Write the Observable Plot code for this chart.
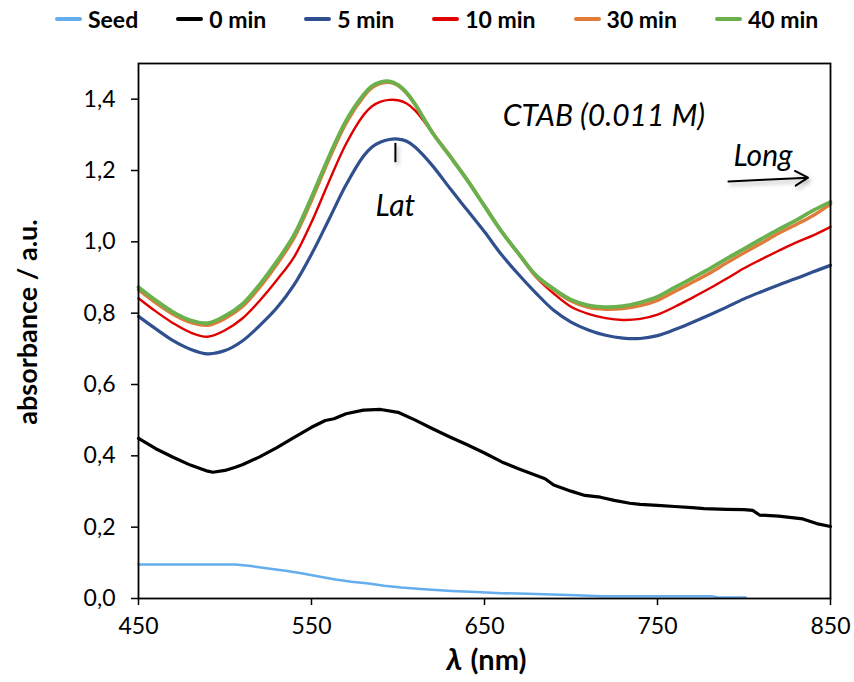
<!DOCTYPE html>
<html><head><meta charset="utf-8">
<script src="https://cdn.jsdelivr.net/npm/d3@7"></script>
<script src="https://cdn.jsdelivr.net/npm/@observablehq/plot@0.6"></script>
<style>
body{margin:0;background:#fff;font-family:Lato,"Open Sans",sans-serif;}
#legend{height:40px;display:flex;align-items:center;padding-left:55px;gap:38px;box-sizing:border-box;padding-bottom:3px;}
.item{display:flex;align-items:center;gap:6px;font-weight:bold;font-size:23px;color:#000;}
.sw{width:27px;height:4px;border-radius:2px;}
#chart svg{display:block;}
g[aria-label="arrow"], g[aria-label="rule"]{filter:drop-shadow(2px 3px 2px rgba(0,0,0,0.3));}
</style></head><body>
<div id="legend"></div>
<div id="chart"></div>
<script>
// Series names and colours
const seriesNames = ["Seed", "0 min", "5 min", "10 min", "30 min", "40 min"];
const seriesColors = ["#64aeee", "#000000", "#2f4f8f", "#e00000", "#e07b39", "#6ab04c"];

// Shared wavelength grid for 5, 10, 30, 40 min (nm)
const wl = [450,460,470,480,490,500,510,520,530,540,550,560,570,580,585,590,595,600,605,610,
            620,630,640,650,660,670,680,690,700,710,720,730,740,750,760,770,780,790,800,810,820,830,840,850];
const abs40 = [0.873,0.836,0.803,0.780,0.772,0.792,0.825,0.880,0.945,1.020,1.125,1.238,1.340,1.412,1.437,1.448,1.450,1.440,1.418,1.385,
               1.305,1.240,1.173,1.100,1.028,0.965,0.905,0.868,0.838,0.822,0.817,0.820,0.830,0.846,0.872,0.898,0.924,0.953,0.980,1.008,1.035,1.060,1.088,1.112];
const abs30 = [0.866,0.829,0.797,0.774,0.766,0.785,0.818,0.872,0.937,1.012,1.116,1.230,1.333,1.406,1.432,1.444,1.447,1.438,1.416,1.384,
               1.306,1.241,1.174,1.101,1.028,0.965,0.903,0.865,0.834,0.816,0.811,0.813,0.821,0.836,0.861,0.886,0.912,0.941,0.969,0.996,1.024,1.048,1.074,1.106];
const abs10 = [0.842,0.805,0.772,0.746,0.734,0.752,0.785,0.835,0.893,0.958,1.055,1.168,1.275,1.355,1.380,1.393,1.398,1.397,1.388,1.368,
               1.306,1.241,1.174,1.101,1.028,0.964,0.900,0.855,0.818,0.798,0.786,0.781,0.784,0.796,0.818,0.843,0.869,0.897,0.926,0.951,0.975,0.998,1.018,1.042];
const abs5  = [0.791,0.756,0.723,0.699,0.686,0.695,0.722,0.765,0.815,0.880,0.965,1.062,1.160,1.240,1.266,1.280,1.287,1.288,1.282,1.265,
               1.213,1.150,1.089,1.028,0.963,0.907,0.855,0.808,0.775,0.753,0.738,0.730,0.729,0.737,0.754,0.774,0.795,0.817,0.840,0.860,0.879,0.897,0.916,0.934];

// 0 min
const wl0 = [450,460,470,480,490,493,500,506,510,520,530,540,550,558,563,570,580,590,600,610,620,630,640,650,660,670,680,685,690,700,708,717,725,734,740,750,760,770,777,790,800,805,809,820,834,842,850];
const abs0 = [0.449,0.420,0.396,0.374,0.357,0.354,0.359,0.368,0.375,0.397,0.423,0.452,0.480,0.499,0.504,0.518,0.528,0.530,0.522,0.500,0.476,0.453,0.431,0.408,0.383,0.363,0.345,0.336,0.318,0.301,0.289,0.284,0.275,0.267,0.264,0.261,0.258,0.255,0.252,0.250,0.249,0.247,0.234,0.231,0.223,0.210,0.202];

// Seed
const wlSeed = [450,470,490,506,515,525,535,545,555,564,573,583,592,602,615,631,645,660,675,689,703,718,750,782,785,801];
const absSeed = [0.095,0.095,0.095,0.095,0.091,0.084,0.078,0.070,0.061,0.053,0.047,0.042,0.036,0.031,0.026,0.021,0.018,0.015,0.013,0.011,0.009,0.006,0.006,0.006,0.003,0.003];

// Ticks
const xTicks = [450, 550, 650, 750, 850];
const yTicks = [0, 0.2, 0.4, 0.6, 0.8, 1.0, 1.2, 1.4];

// Annotations
const notes = [
  {text: "CTAB (0.011 M)", x: 719, y: 1.352},
  {text: "Lat", x: 598.5, y: 1.10},
  {text: "Long", x: 811, y: 1.24}
];
const latMarker = [{x: 598.5, y1: 1.222, y2: 1.276}];
const longArrow = [{x1: 791, y1: 1.169, x2: 837, y2: 1.180}];

const toRows = (w, v, s) => w.map((d, i) => ({wl: d, a: v[i], s}));
const series = [
  toRows(wlSeed, absSeed, "Seed"),
  toRows(wl0, abs0, "0 min"),
  toRows(wl, abs5, "5 min"),
  toRows(wl, abs10, "10 min"),
  toRows(wl, abs30, "30 min"),
  toRows(wl, abs40, "40 min")
];
const widths = [2.5, 3.2, 3.2, 2.4, 3.4, 3.8];

// Legend
const leg = document.getElementById("legend");
seriesNames.forEach((n, i) => {
  const it = document.createElement("div"); it.className = "item";
  const sw = document.createElement("div"); sw.className = "sw"; sw.style.background = seriesColors[i];
  const t = document.createElement("span"); t.textContent = n;
  it.appendChild(sw); it.appendChild(t); leg.appendChild(it);
});

const fmt = d => d.toFixed(1).replace(".", ",");

const chart = Plot.plot({
  width: 854, height: 642,
  marginTop: 23, marginBottom: 84, marginLeft: 138, marginRight: 24,
  style: {fontFamily: "Lato, sans-serif", background: "white", color: "#000", overflow: "visible"},
  x: {domain: [450, 850]},
  y: {domain: [0, 1.5]},
  marks: [
    Plot.axisX({ticks: xTicks, tickSize: 7, tickPadding: 12, fontSize: 23, strokeWidth: 1.5, label: null}),
    Plot.axisY({ticks: yTicks, tickSize: 7, tickPadding: 16, fontSize: 23, strokeWidth: 1.5, tickFormat: fmt, label: null}),
    ...series.map((rows, i) => Plot.line(rows, {x: "wl", y: "a", stroke: seriesColors[i], strokeWidth: widths[i], curve: i < 2 ? "linear" : "catmull-rom"})),
    Plot.frame({stroke: "#000", strokeWidth: 1.8}),
    Plot.text(notes, {x: "x", y: "y", text: "text", fontSize: 30, fontStyle: "italic", fill: "#000"}),
    Plot.ruleX(latMarker, {x: "x", y1: "y1", y2: "y2", stroke: "#000", strokeWidth: 2}),
    Plot.arrow(longArrow, {x1: "x1", y1: "y1", x2: "x2", y2: "y2", stroke: "#000", strokeWidth: 2, headLength: 11}),
    Plot.text(["absorbance / a.u."], {frameAnchor: "left", textAnchor: "middle", dx: -110, dy: -9, rotate: -90, fontSize: 27, fontWeight: "bold", fill: "#000"}),
    Plot.text(["λ"], {frameAnchor: "bottom", dx: -38, dy: 71, textAnchor: "start", fontSize: 31, fontWeight: "bold", fontStyle: "italic", fill: "#000"}),
    Plot.text(["(nm)"], {frameAnchor: "bottom", dx: -14, dy: 71, textAnchor: "start", fontSize: 29, fontWeight: "bold", fill: "#000"})
  ]
});
document.getElementById("chart").appendChild(chart);
</script>
</body></html>
